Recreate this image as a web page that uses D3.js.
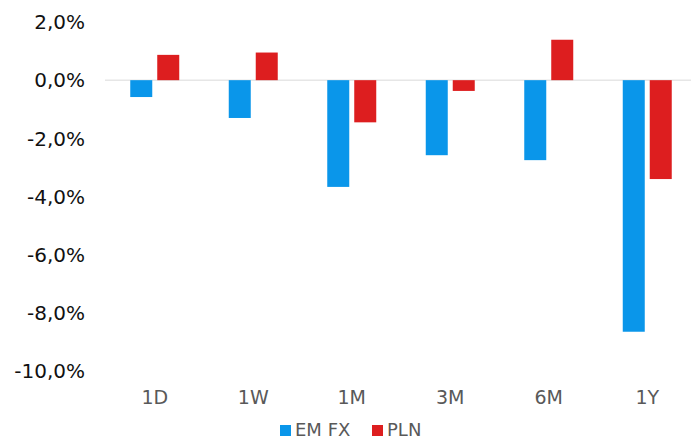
<!DOCTYPE html>
<meta charset="utf-8">
<html>
<head>
<script src="https://d3js.org/d3.v7.min.js"></script>
<style>
    body { margin: 0; background: #fff; }
    svg text { font-family: "DejaVu Sans", Verdana, sans-serif; }
</style>
</head>
<body>
<svg id="chart"></svg>
<script>

var categories = ["1D", "1W", "1M", "3M", "6M", "1Y"]
var seriesNames = ["EM FX", "PLN"]
var emfx = [-0.58, -1.30, -3.67, -2.58, -2.75, -8.65]
var pln = [0.87, 0.95, -1.45, -0.37, 1.39, -3.40]
var yTicks = [2, 0, -2, -4, -6, -8, -10]
var colors = ["#0A96EA", "#DD1E1F"]

var width = 691, height = 441
var svg = d3.select("#chart").attr("width", width).attr("height", height)

var y = d3.scaleLinear().domain([-10, 2]).range([371, 22])
var x0 = d3.scaleBand().domain(categories).range([105.5, 696.5])
var x1 = d3.scaleBand().domain(seriesNames).range([0, x0.bandwidth()])
    .paddingInner(0.185).paddingOuter(0.917)
var color = d3.scaleOrdinal().domain(seriesNames).range(colors)

var fmt = d => d.toFixed(1).replace(".", ",") + "%"

// y labels
svg.append("g").selectAll("text")
    .data(yTicks)
    .enter().append("text")
    .attr("x", 85)
    .attr("y", d => y(d))
    .attr("dy", "0.36em")
    .attr("text-anchor", "end")
    .attr("font-size", 20)
    .attr("fill", "#111")
    .text(fmt)

// zero line
svg.append("line")
    .attr("x1", 105).attr("x2", width)
    .attr("y1", y(0)).attr("y2", y(0))
    .attr("stroke", "#d9d9d9")
    .attr("stroke-width", 1)

var rows = categories.map((c, i) => ({cat: c, vals: [emfx[i], pln[i]]}))

var groups = svg.append("g").selectAll("g")
    .data(rows)
    .enter().append("g")
    .attr("transform", d => "translate(" + x0(d.cat) + ",0)")

groups.selectAll("rect")
    .data(d => d.vals.map((v, j) => ({s: seriesNames[j], v: v})))
    .enter().append("rect")
    .attr("x", d => x1(d.s))
    .attr("width", x1.bandwidth())
    .attr("y", d => y(Math.max(0, d.v)))
    .attr("height", d => Math.abs(y(d.v) - y(0)))
    .attr("fill", d => color(d.s))

// x labels
svg.append("g").selectAll("text")
    .data(categories)
    .enter().append("text")
    .attr("x", d => x0(d) + x0.bandwidth() / 2)
    .attr("y", 397)
    .attr("dy", "0.36em")
    .attr("text-anchor", "middle")
    .attr("font-size", 19)
    .attr("fill", "#595959")
    .text(d => d)

// legend
var legend = svg.append("g")
var lx = [280, 372]
seriesNames.forEach(function(s, i) {
    legend.append("rect")
        .attr("x", lx[i]).attr("y", 425)
        .attr("width", 11).attr("height", 11)
        .attr("fill", color(s))
    legend.append("text")
        .attr("x", lx[i] + 15).attr("y", 430)
        .attr("dy", "0.36em")
        .attr("font-size", 18)
        .attr("fill", "#595959")
        .text(s)
})
</script>
</body>
</html>
